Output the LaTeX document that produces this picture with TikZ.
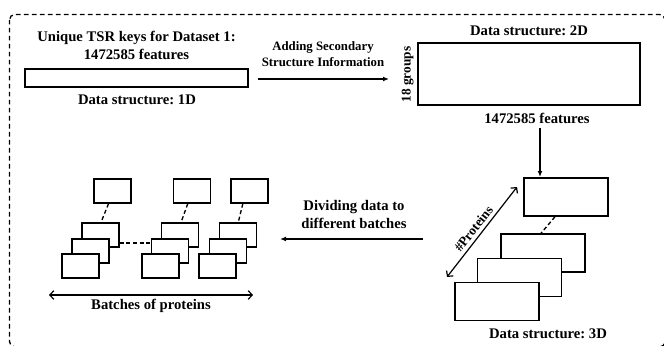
\documentclass[tikz,border=0pt]{standalone}
\usepackage{fontspec}
\setmainfont{Liberation Serif}
\usetikzlibrary{arrows.meta,calc}
\frenchspacing
\begin{document}
\begin{tikzpicture}[x=0.75pt,y=-0.75pt,
  box/.style={draw, line width=1.1pt, fill=white, inner sep=0pt},
  bigbox/.style={box, minimum width=63pt, minimum height=28.5pt},
  smallbox/.style={box, minimum width=27.75pt, minimum height=18pt},
  lbl/.style={font=\bfseries\fontsize{11}{13.5}\selectfont\frenchspacing, inner sep=0pt, align=center},
  slbl/.style={font=\bfseries\fontsize{9.6}{12}\selectfont\frenchspacing, inner sep=0pt, align=center},
  rlbl/.style={font=\bfseries\fontsize{10}{12}\selectfont, inner sep=0pt},
  arr/.style={line width=0.9pt, -{Latex[length=4.5pt,width=3.6pt]}},
  darr/.style={line width=0.9pt, {Straight Barb[length=3pt,width=6.5pt]}-{Straight Barb[length=3pt,width=6.5pt]}},
  dashcon/.style={line width=1pt, dash pattern=on 3pt off 2pt},
  frame/.style={line width=1pt, dash pattern=on 3.5pt off 2.5pt, rounded corners=4pt}]
\useasboundingbox (0,0) rectangle (664,346);
\draw[frame] (9.5,14.5) rectangle (665,347);

% 1D
\node[lbl] (title1d) at (136.5,45.5) {Unique TSR keys for Dataset 1:\\1472585 features};
\node[box, minimum width=167.25pt, minimum height=13.5pt] (box1d) at (136.5,78) {};
\node[lbl, anchor=base] (ds1d) at (137,104) {Data structure: 1D};

% arrow 1D -> 2D
\coordinate (a1s) at (258,79);
\coordinate (a1e) at (389,79);
\draw[arr] (a1s) -- (a1e);
\node[slbl] (addlbl) at (323,53.7) {Adding Secondary\\Structure Information};

% 2D
\node[lbl, anchor=base] (ds2d) at (529,36) {Data structure: 2D};
\node[box, minimum width=166.5pt, minimum height=46.5pt] (box2d) at (529,74) {};
\node[rlbl, rotate=90, anchor=base] (grp) at (410.5,74.5) {18 groups};
\node[lbl, anchor=base] (feat2d) at (537,123) {1472585 features};

% arrow 2D -> 3D
\coordinate (a2s) at (540,128);
\coordinate (a2e) at (540,177);
\draw[arr] (a2s) -- (a2e);

% 3D stack
\node[bigbox] (t3) at (566,197) {};
\node[bigbox] (s1) at (543,253) {};
\node[bigbox] (s2) at (519.5,277.5) {};
\node[bigbox] (s3) at (497,301.5) {};
\draw[dashcon] ([xshift=-8.25pt]t3.south) -- ([xshift=-1.5pt]s1.north);
\node[lbl, anchor=base] (ds3d) at (548,338) {Data structure: 3D};
\coordinate (p1) at (447,277);
\coordinate (p2) at (517,187);
\draw[darr] (p1) -- node[rlbl, midway, sloped, above=2.5pt, xshift=-2pt] (prot) {\#Proteins} (p2);

% arrow 3D -> batches
\coordinate (a3s) at (423,239);
\coordinate (a3e) at (280,239);
\draw[arr] (a3s) -- (a3e);
\node[lbl] (divlbl) at (354,214.5) {Dividing data to\\different batches};

% batches
\node[smallbox] (g1t) at (112.5,191) {};
\node[smallbox] (g1a) at (100.5,235) {};
\node[smallbox] (g1b) at (90.5,251) {};
\node[smallbox] (g1c) at (80.5,266) {};
\node[smallbox] (g2t) at (192,191) {};
\node[smallbox] (g2a) at (180,235) {};
\node[smallbox] (g2b) at (170,251) {};
\node[smallbox] (g2c) at (160.5,266) {};
\node[smallbox] (g3t) at (249.5,191) {};
\node[smallbox] (g3a) at (238,235) {};
\node[smallbox] (g3b) at (228,251) {};
\node[smallbox] (g3c) at (217.5,266) {};
\draw[dashcon] ([xshift=-3pt]g1t.south) -- ([xshift=0.4pt]g1a.north);
\draw[dashcon] ([xshift=-3.2pt]g2t.south) -- ([xshift=0.8pt]g2a.north);
\draw[dashcon] ([xshift=-5pt]g3t.south) -- ([xshift=0.2pt]g3a.north);
\draw[dashcon] ([yshift=-6pt]g1a.east) -- ([yshift=6pt]g2b.west);

\coordinate (b1) at (49,295);
\coordinate (b2) at (253,295);
\draw[darr] (b1) -- (b2);
\node[lbl, anchor=base] (batchlbl) at (151,309.5) {Batches of proteins};
\end{tikzpicture}
\end{document}
